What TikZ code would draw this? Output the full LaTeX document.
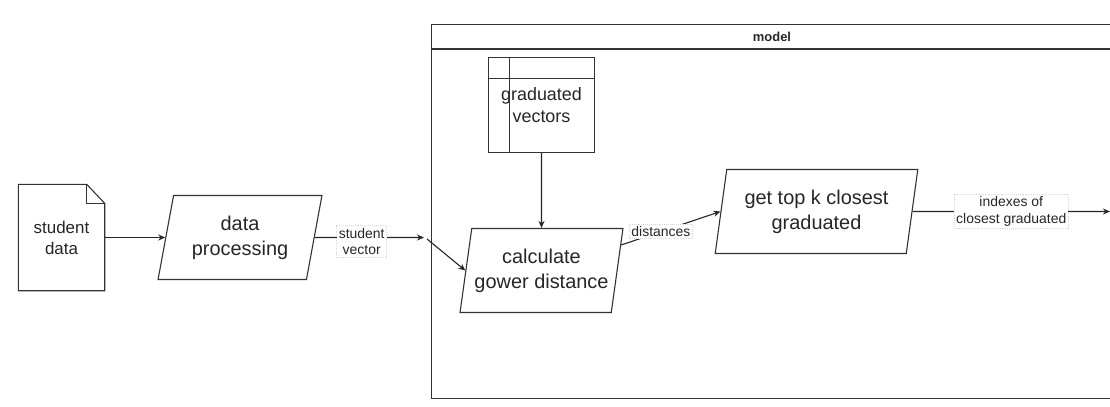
\documentclass[tikz,border=0pt]{standalone}
\usepackage{fontspec}
\setmainfont{Liberation Sans}
\usetikzlibrary{shapes.geometric,arrows.meta,calc}
\begin{document}
\begin{tikzpicture}[x=1bp,y=-1bp,
  ln/.style={draw=black!80, line width=1.1bp},
  arr/.style={draw=black!85, line width=1.1bp, -{Stealth[length=7bp,width=6bp]}},
  pgram/.style={ln, fill=white, trapezium, trapezium stretches=true,
    minimum height=84bp, inner sep=0pt, align=center,
    font=\fontsize{20}{25}\selectfont, text=black!85},
  lbl/.style={fill=white, draw=black!15, densely dotted, inner sep=2bp, align=center,
    font=\fontsize{14}{17}\selectfont, text=black!85},
]
\fill[white] (0,0) rectangle (1110,406);
\useasboundingbox (0,0) rectangle (1110,406);

% container
\node[ln, line width=1.3bp, minimum width=681bp, minimum height=374bp, inner sep=0pt] (model) at (772,211.5) {};
\draw[ln, line width=1.3bp] ([yshift=-25bp]model.north west) -- ([yshift=-25bp]model.north east);
\node[font=\bfseries\fontsize{13}{15}\selectfont, text=black!85] (modeltitle) at (772,36.5) {model};

% student data (document)
\node[minimum width=86bp, minimum height=106bp, inner sep=0pt, align=center,
  font=\fontsize{17}{21}\selectfont, text=black!85] (sd) at (61.5,237.5) {student\\data};
\draw[ln] (sd.north west) -- ([xshift=-18bp]sd.north east) -- ([yshift=-19bp]sd.north east)
  -- (sd.south east) -- (sd.south west) -- cycle;
\draw[ln] ([xshift=-18bp]sd.north east) |- ([yshift=-19bp]sd.north east);

% data processing
\node[pgram, trapezium left angle=75.5, trapezium right angle=104.5, minimum width=164bp] (dp) at (240,237.5) {data\\processing};

% graduated vectors
\node[ln, fill=white, minimum width=106bp, minimum height=95bp, inner sep=0pt, align=center,
  font=\fontsize{18}{22}\selectfont, text=black!85] (gv) at (541.5,105) {graduated\\vectors};
\draw[ln] ([yshift=-21.5bp]gv.north west) -- ([yshift=-21.5bp]gv.north east);
\draw[ln] ([xshift=21.5bp]gv.north west) -- ([xshift=21.5bp]gv.south west);

% calculate gower distance
\node[pgram, trapezium left angle=75.5, trapezium right angle=104.5, minimum width=163bp] (cg) at (541.5,270.5) {calculate\\gower distance};

% get top k closest graduated
\node[pgram, trapezium left angle=78, trapezium right angle=102, minimum width=203bp] (gt) at (816.5,211.5) {get top k closest\\graduated};

% connector end points
\coordinate (inA) at (424,237.5);
\coordinate (inB) at (427,239);
\coordinate (outR) at (1110,211.5);
\coordinate (cgout) at ($(cg.top right corner)!0.2!(cg.bottom right corner)$);

% connectors
\draw[arr] (sd.east) -- (sd.east -| dp.west);
\draw[arr] (dp.east) -- node[lbl, pos=0.43, yshift=-4bp] (lsv) {student\\vector} (inA);
\draw[arr] (inB) -- (cg.west);
\draw[arr] (gv.south) -- (cg.north);
\draw[arr] (cgout) -- node[lbl, pos=0.4] (ldist) {distances} (gt.west);
\draw[arr] (gt.east) -- node[lbl, pos=0.5] (lidx) {indexes of\\closest graduated} (outR);
\end{tikzpicture}
\end{document}
